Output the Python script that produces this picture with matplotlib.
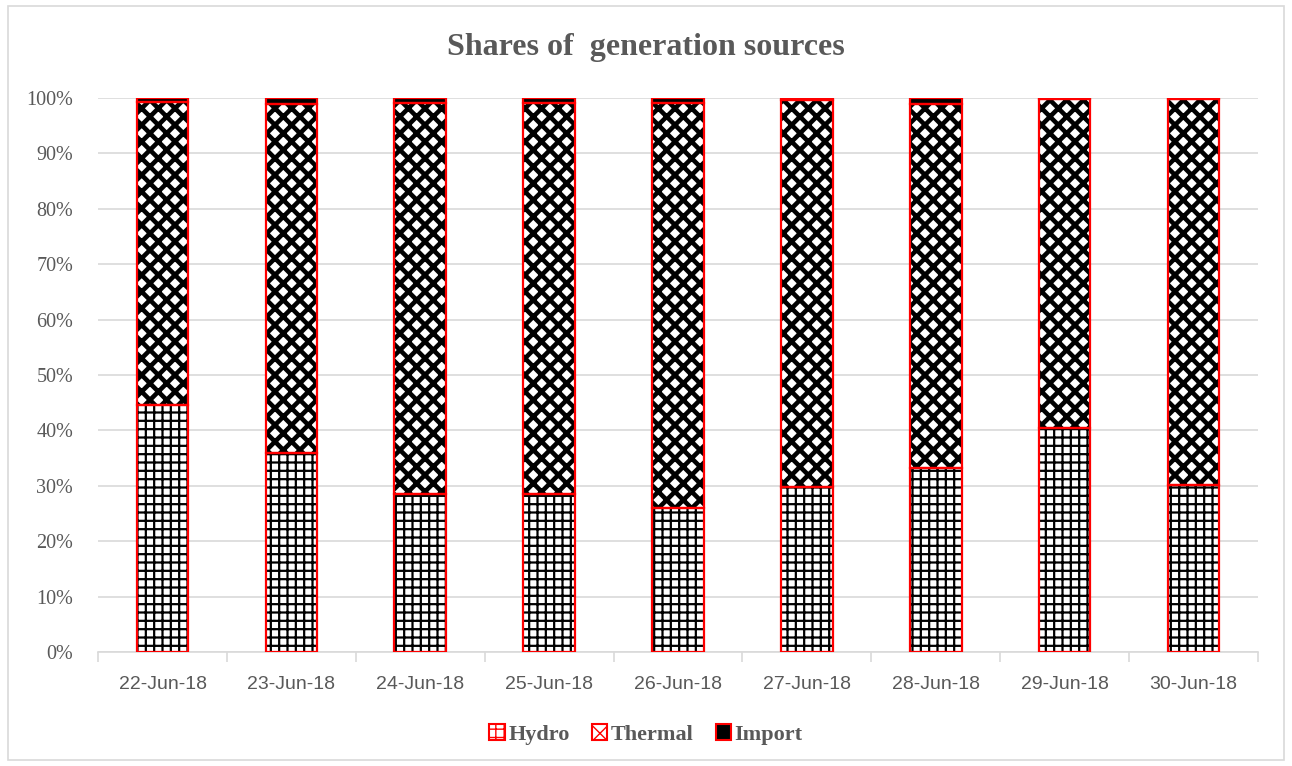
import numpy as np
import matplotlib
matplotlib.use('Agg')
import matplotlib.pyplot as plt
from matplotlib.patches import Rectangle, Patch

# Data (percent shares)
dates = ['22-Jun-18', '23-Jun-18', '24-Jun-18', '25-Jun-18', '26-Jun-18',
         '27-Jun-18', '28-Jun-18', '29-Jun-18', '30-Jun-18']
hydro = [44.6, 35.9, 28.5, 28.5, 26.0, 29.7, 33.3, 40.4, 30.2]
imports = [0.8, 1.1, 0.9, 0.9, 0.9, 0.4, 1.0, 0.1, 0.1]
thermal = [100 - h - i for h, i in zip(hydro, imports)]

GRAY = '#595959'
RED = '#ff0000'
SERIF = ['Liberation Serif', 'DejaVu Serif']

fig = plt.figure(figsize=(12.92, 7.66), dpi=100)
ax = fig.add_axes([0.0759, 0.1488, 0.8978, 0.7232])

# light frame around the chart
fig.patches.append(Rectangle((0.006, 0.008), 0.988, 0.984, transform=fig.transFigure,
                             fill=False, edgecolor='#d9d9d9', lw=1.2))

x = np.arange(len(dates))
w = 0.40


def stacked(bottom, height, hatch, face, hlw=1.6):
    # hatch drawn in black, red outline drawn on top
    with plt.rc_context({'hatch.linewidth': hlw}):
        ax.bar(x, height, w, bottom=bottom, color=face, edgecolor='black',
               hatch=hatch, lw=0, zorder=2)
    ax.bar(x, height, w, bottom=bottom, fill=False, edgecolor=RED,
           lw=1.6, zorder=3)


stacked(0, hydro, '++', 'white', 1.6)
stacked(hydro, thermal, 'xx', 'white', 3.3)
bot_imp = [h + t for h, t in zip(hydro, thermal)]
stacked(bot_imp, imports, None, 'black')

ax.set_xlim(-0.5, len(dates) - 0.5)
ax.set_ylim(0, 100)
ax.set_yticks(np.arange(0, 101, 10))
ax.set_yticklabels([f'{v}%' for v in range(0, 101, 10)], family=SERIF,
                   fontsize=14.5, color=GRAY)
ax.set_xticks(x)
ax.set_xticklabels(dates, fontsize=14, color=GRAY,
                   family=['Liberation Sans', 'DejaVu Sans'])
ax.set_xticks(np.arange(-0.5, len(dates)), minor=True)
ax.tick_params(axis='x', which='major', length=0, pad=17)
ax.tick_params(axis='x', which='minor', length=7, color='#d9d9d9', width=1.2)
ax.tick_params(axis='y', length=0, pad=18)
ax.grid(axis='y', color='#d9d9d9', lw=1.2, zorder=0)
ax.set_axisbelow(True)
for s in ['left', 'right', 'top']:
    ax.spines[s].set_visible(False)
ax.spines['bottom'].set_color('#d9d9d9')
ax.spines['bottom'].set_linewidth(1.2)

fig.text(0.5, 0.938, 'Shares of  generation sources', ha='center', va='center',
         fontsize=23, fontweight='bold', color=GRAY, family=SERIF)

with plt.rc_context({'hatch.linewidth': 1.6}):
    h1 = Patch(facecolor='white', edgecolor=RED, hatch='++', lw=1.5)
with plt.rc_context({'hatch.linewidth': 3.0}):
    h2 = Patch(facecolor='white', edgecolor=RED, hatch='xx', lw=1.5)
h3 = Patch(facecolor='black', edgecolor=RED, lw=1.5)
leg = fig.legend([h1, h2, h3], ['Hydro', 'Thermal', 'Import'], loc='center',
                 bbox_to_anchor=(0.5, 0.041), ncol=3, frameon=False,
                 handlelength=0.7, handleheight=0.7, handletextpad=0.15,
                 columnspacing=1.0,
                 prop={'family': SERIF, 'weight': 'bold', 'size': 16})
for t in leg.get_texts():
    t.set_color(GRAY)

fig.savefig('out.png', dpi=100)
